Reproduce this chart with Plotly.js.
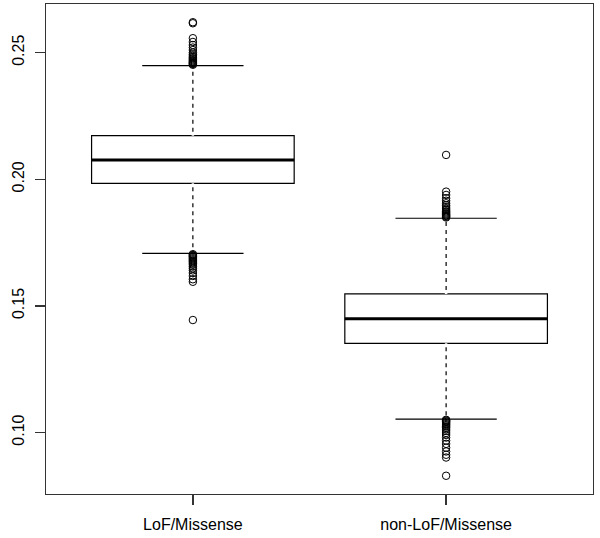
<!DOCTYPE html>
<html>
<head>
<meta charset="utf-8">
<script src="https://cdn.plot.ly/plotly-3.0.1.min.js"></script>
<style>html,body{margin:0;padding:0;background:#fff;}#chart{width:600px;height:538px;}</style>
</head>
<body>
<div id="chart"></div>
<script>
// Categories and summary statistics
const categories = ["LoF/Missense", "non-LoF/Missense"];
const positions = [1, 2];
const q1 = [0.1984, 0.1352];
const median = [0.2076, 0.1449];
const q3 = [0.2172, 0.1547];
const lowerWhisker = [0.1707, 0.1053];
const upperWhisker = [0.2449, 0.1846];

// Outliers per group
const outliersLoF = [
  0.2452, 0.2455, 0.2458, 0.2460, 0.2463, 0.2466, 0.2470, 0.2474, 0.2478, 0.2482,
  0.2487, 0.2493, 0.2500, 0.2510, 0.2520, 0.2530, 0.2542, 0.2557, 0.2616, 0.2620,
  0.1704, 0.1701, 0.1698, 0.1695, 0.1692, 0.1688, 0.1684, 0.1680, 0.1676, 0.1672,
  0.1667, 0.1662, 0.1655, 0.1648, 0.1640, 0.1630, 0.1618, 0.1605, 0.1595, 0.1444
];
const outliersNonLoF = [
  0.1849, 0.1852, 0.1855, 0.1858, 0.1861, 0.1865, 0.1869, 0.1873, 0.1878, 0.1883,
  0.1890, 0.1897, 0.1905, 0.1915, 0.1925, 0.1938, 0.1951, 0.2096,
  0.1050, 0.1047, 0.1044, 0.1041, 0.1037, 0.1033, 0.1029, 0.1024, 0.1019, 0.1013,
  0.1006, 0.0998, 0.0990, 0.0980, 0.0968, 0.0955, 0.0940, 0.0925, 0.0912, 0.0901, 0.0829
];
const yTicks = [0.10, 0.15, 0.20, 0.25];

const boxWidth = 0.8;
const axisColor = "#333333";
const font = "Liberation Sans, Arial, sans-serif";

const traces = [];

// Boxes (precomputed statistics)
traces.push({
  type: "box",
  x: positions,
  q1: q1, median: median, q3: q3,
  lowerfence: lowerWhisker, upperfence: upperWhisker,
  width: boxWidth,
  whiskerwidth: 0.5,
  boxpoints: false,
  fillcolor: "#ffffff",
  line: {color: "#000000", width: 1.2},
  hoverinfo: "skip",
  showlegend: false
});

// Dashed look for whiskers: white dashed overlay on the whisker stems
positions.forEach((p, i) => {
  [[q3[i], upperWhisker[i]], [q1[i], lowerWhisker[i]]].forEach(seg => {
    traces.push({
      type: "scatter", mode: "lines",
      x: [p, p], y: seg,
      line: {color: "#ffffff", width: 2.5, dash: "4px,4px"},
      hoverinfo: "skip", showlegend: false
    });
  });
  // Thick median line
  traces.push({
    type: "scatter", mode: "lines",
    x: [p - boxWidth / 2, p + boxWidth / 2], y: [median[i], median[i]],
    line: {color: "#000000", width: 3.2},
    hoverinfo: "skip", showlegend: false
  });
});

// Outlier points
[outliersLoF, outliersNonLoF].forEach((arr, i) => {
  traces.push({
    type: "scatter", mode: "markers",
    x: arr.map(() => positions[i]), y: arr,
    marker: {symbol: "circle-open", size: 7.5, color: "#000000", line: {width: 1, color: "#000000"}},
    hoverinfo: "skip", showlegend: false
  });
});

const layout = {
  width: 600, height: 538,
  margin: {l: 46, r: 7, t: 4, b: 44, pad: 0},
  paper_bgcolor: "#ffffff", plot_bgcolor: "#ffffff",
  showlegend: false,
  hovermode: false,
  font: {family: font, size: 16, color: "#000000"},
  xaxis: {
    range: [0.42, 2.58],
    tickmode: "array", tickvals: positions, ticktext: categories,
    showgrid: false, zeroline: false,
    showline: true, mirror: true, linecolor: axisColor, linewidth: 1.3,
    ticks: "outside", ticklen: 10, tickwidth: 1.3, tickcolor: axisColor,
    ticklabelstandoff: 5,
    tickfont: {family: font, size: 16, color: "#000000"}
  },
  yaxis: {
    range: [0.0757, 0.2692],
    tickmode: "array", tickvals: yTicks, ticktext: yTicks.map(v => v.toFixed(2)),
    showgrid: false, zeroline: false,
    showline: true, mirror: true, linecolor: axisColor, linewidth: 1.3,
    ticks: "outside", ticklen: 10, tickwidth: 1.3, tickcolor: axisColor,
    tickangle: -90,
    ticklabelstandoff: 4,
    tickfont: {family: font, size: 16, color: "#000000"}
  }
};

Plotly.newPlot("chart", traces, layout, {staticPlot: true, displayModeBar: false});
</script>
</body>
</html>
